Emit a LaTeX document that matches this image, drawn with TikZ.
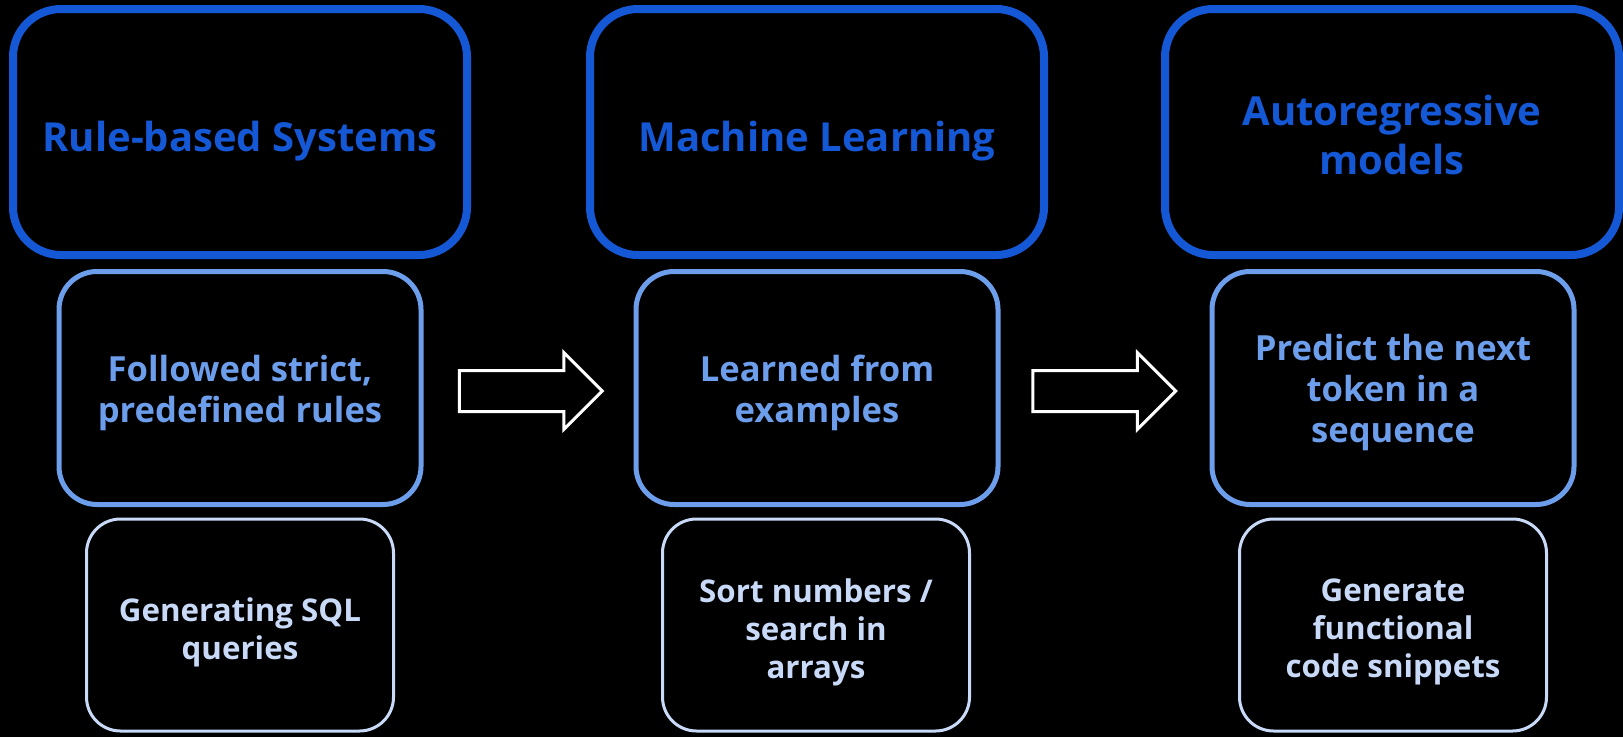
\documentclass[tikz,border=0pt]{standalone}
\usepackage{fontspec}
\setmainfont{Open Sans}
\usepackage{tikz}
\usetikzlibrary{positioning}
\usetikzlibrary{shapes.arrows}
\usetikzlibrary{calc}

\definecolor{topblue}{HTML}{1558D6}
\definecolor{midblue}{HTML}{6D9EEB}
\definecolor{lowblue}{HTML}{C9DAF8}

\begin{document}
\begin{tikzpicture}[x=1pt,y=-1pt,
    era box/.style={draw=topblue,line width=8pt,rounded corners=48pt,minimum width=454pt,minimum height=246pt},
    era/.style={era box,label={[era text]center:{#1}}},
    era line/.style={era box,label={[era text,yshift=-6pt]center:{#1}}},
    era text/.style={text=topblue,align=center,font=\bfseries\fontsize{40}{49}\selectfont,yshift=-3pt},
    idea/.style={draw=midblue,line width=5pt,rounded corners=38pt,minimum width=362pt,minimum height=233pt,
      label={[idea text]center:{#1}}},
    idea text/.style={text=midblue,align=center,font=\bfseries\fontsize{34.6}{41}\selectfont,yshift=-5pt},
    task/.style={draw=lowblue,line width=3pt,rounded corners=34pt,minimum width=307pt,minimum height=212pt,
      label={[task text]center:{#1}}},
    task text/.style={text=lowblue,align=center,font=\bfseries\fontsize{31.3}{38}\selectfont,yshift=-7pt},
    step arrow/.style={single arrow,draw=white,line width=3pt,minimum height=143pt,
      text height=19pt,text depth=19pt,inner sep=0pt,single arrow head extend=18pt}]
        \fill[black] (0,0) rectangle (1623,737);
        \useasboundingbox (0,0) rectangle (1623,737);

        \node[era line={Rule-based Systems}] (era1) at (240,132) {};
        \node[era line={Machine Learning}] (era2) at (817,132) {};
        \node[era={Autoregressive\\models}] (era3) at (1392,132) {};

        \node[idea={Followed strict,\\predefined rules}] (idea1) at (240,388) {};
        \node[idea={Learned from\\examples}] (idea2) at (817,388) {};
        \node[idea={Predict the next\\token in a\\sequence}] (idea3) at (1393,388) {};

        \node[task={Generating SQL\\queries}] (task1) at (240,625) {};
        \node[task={Sort numbers /\\search in\\arrays}] (task2) at (816,625) {};
        \node[task={Generate\\functional\\code snippets}] (task3) at (1393,625) {};

        \node[step arrow] (go1) at ($(idea1.east)!0.5!(idea2.west)+(-8,3)$) {};
        \node[step arrow] (go2) at ($(idea2.east)!0.5!(idea3.west)+(-11,3)$) {};
\end{tikzpicture}
\end{document}
